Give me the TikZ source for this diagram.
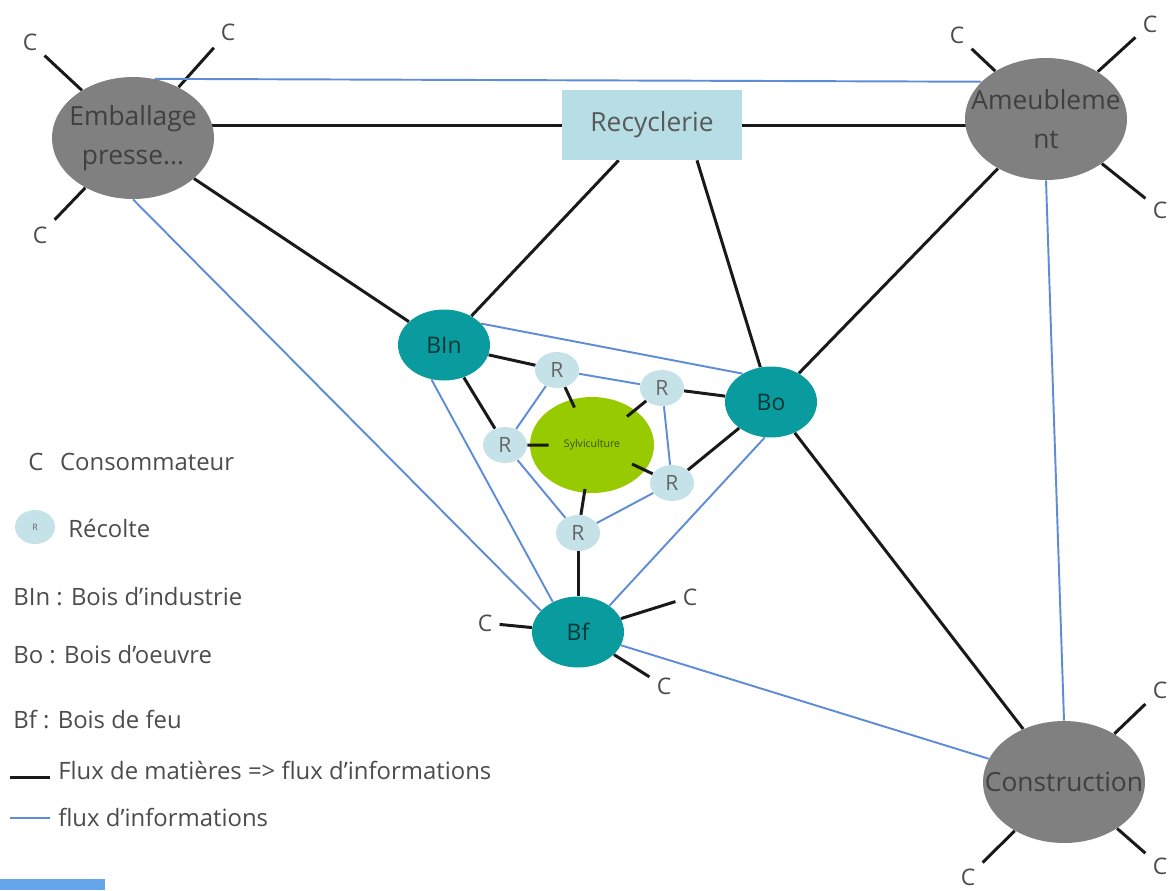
\documentclass[tikz,border=0pt]{standalone}
\usepackage{fontspec}
\setmainfont{Open Sans}
\usetikzlibrary{shapes.geometric,calc,backgrounds}

\definecolor{grissecteur}{RGB}{128,128,128}
\definecolor{sarcelle}{RGB}{10,155,158}
\definecolor{vertsylv}{RGB}{152,202,0}
\definecolor{bleurecolte}{RGB}{196,226,232}
\definecolor{bleurecy}{RGB}{182,222,228}
\definecolor{bleuinfo}{RGB}{95,140,215}
\definecolor{bleubarre}{RGB}{100,165,235}

\tikzset{
  secteur/.style={ellipse, fill=grissecteur, minimum width=3.24cm, minimum height=2.44cm,
    inner sep=0pt, align=center, text=black!75, font=\fontsize{15}{22}\selectfont},
  recy/.style={rectangle, fill=bleurecy, minimum width=3.6cm, minimum height=1.4cm,
    text=black!65, font=\fontsize{15}{18}\selectfont},
  bois/.style={ellipse, fill=sarcelle, minimum width=1.84cm, minimum height=1.42cm,
    inner sep=0pt, text=sarcelle!35!black, font=\fontsize{13}{15}\selectfont},
  sylv/.style={ellipse, fill=vertsylv, minimum width=2.48cm, minimum height=1.92cm,
    inner sep=0pt, text=vertsylv!40!black, font=\fontsize{6}{7}\selectfont},
  recolte/.style={ellipse, fill=bleurecolte, minimum width=0.88cm, minimum height=0.72cm,
    inner sep=0pt, text=black!60, font=\fontsize{12}{14}\selectfont},
  conso/.style={inner sep=4pt, text=black!70, font=\fontsize{13}{15}\selectfont},
  matiere/.style={line width=1.7pt, black!90},
  info/.style={line width=1.1pt, bleuinfo},
  legende/.style={anchor=west, inner sep=0pt, text=black!70, font=\fontsize{13.6}{16}\selectfont}
}

\begin{document}
\begin{tikzpicture}[x=0.02cm, y=-0.02cm]
  \useasboundingbox (0,0) rectangle (1169,890);

  % sectors
  \node[secteur] (emb) at (133,138) {\makebox[0pt]{Emballage}\\\makebox[0pt]{presse...}};
  \node[secteur] (ameu) at (1046,119) {\makebox[0pt]{Ameubleme}\\\makebox[0pt]{nt}};
  \node[secteur] (cons) at (1064,782) {\makebox[0pt]{Construction}};
  \node[recy] (rec) at (652,125) {Recyclerie};

  % wood types
  \node[bois] (bin) at (444,345) {BIn};
  \node[bois] (bo) at (771,402) {Bo};
  \node[bois] (bf) at (578,632) {Bf};

  % forestry and harvests
  \node[sylv] (sylv) at (592,445) {Sylviculture};
  \foreach \nom/\x/\y in {r1/557/370, r2/662/388, r3/505/445, r4/672/483, r5/578/533}
    \node[recolte] (\nom) at (\x,\y) {R};

  % consumers
  \foreach \nom/\x/\y in {c1/30/42, c2/228/32, c3/40/235,
      c4/957/35, c5/1150/24, c6/1160/210,
      c7/1160/690, c8/968/877, c9/1160/866,
      c10/485/623, c11/690/597, c12/664/686}
    \node[conso] (\nom) at (\x,\y) {C};

  \begin{scope}[on background layer]
    % material flows
    \draw[matiere] (rec.west) -- (rec.west -| emb);
    \draw[matiere] (rec.east) -- (rec.east -| ameu);
    \draw[matiere] ($(rec.south)+(45,0)$) -- (bo);
    \foreach \a/\b in {emb/bin, rec/bin, ameu/bo, bo/cons,
        bin/r1, bin/r3, r2/bo, r4/bo, r5/bf,
        emb/c1, emb/c2, emb/c3, ameu/c4, ameu/c5, ameu/c6,
        cons/c7, cons/c8, cons/c9, bf/c10, bf/c11, bf/c12}
      \draw[matiere] (\a) -- (\b);
    % information flows
    \draw[info] (emb.70) -- (ameu.150);
    \draw[info] (ameu.south) -- (cons.north);
    \draw[info] (emb.south) -- (bf.150);
    \draw[info] (bin.250) -- (bf.130);
    \draw[info] (bin.30) -- (bo.135);
    \draw[info] (bo.260) -- (bf.40);
    \draw[info] (bf) -- (cons);
    \foreach \a/\b in {r1/r2, r1/r3, r2/r4, r3/r5, r5/r4}
      \draw[info] (\a) -- (\b);
  \end{scope}
  % harvests into forestry
  \foreach \r in {r1,r2,r3,r4,r5}
    \draw[matiere] (\r) -- ($(\r)!.5!(sylv)$);

  % legend
  \node[legende] (lc) at (28,462) {C\hspace{0.7em}Consommateur};
  \node[recolte, minimum width=0.8cm, minimum height=0.68cm] (lr) at (35,527) {\fontsize{5}{5}\selectfont R};
  \node[legende] (lrt) at (68,528) {Récolte};
  \node[legende] (lbin) at (13,597) {BIn : Bois d'industrie};
  \node[legende] (lbo) at (13,655) {Bo : Bois d'oeuvre};
  \node[legende] (lbf) at (13,720) {Bf : Bois de feu};
  \draw[matiere] (10,777) -- (50,777);
  \node[legende] (lmat) at (58,770) {Flux de matières => flux d'informations};
  \draw[info] (10,818) -- (50,818);
  \node[legende] (linfo) at (58,817) {flux d'informations};
  \fill[bleubarre] (0,879) rectangle (105,890);
\end{tikzpicture}
\end{document}
